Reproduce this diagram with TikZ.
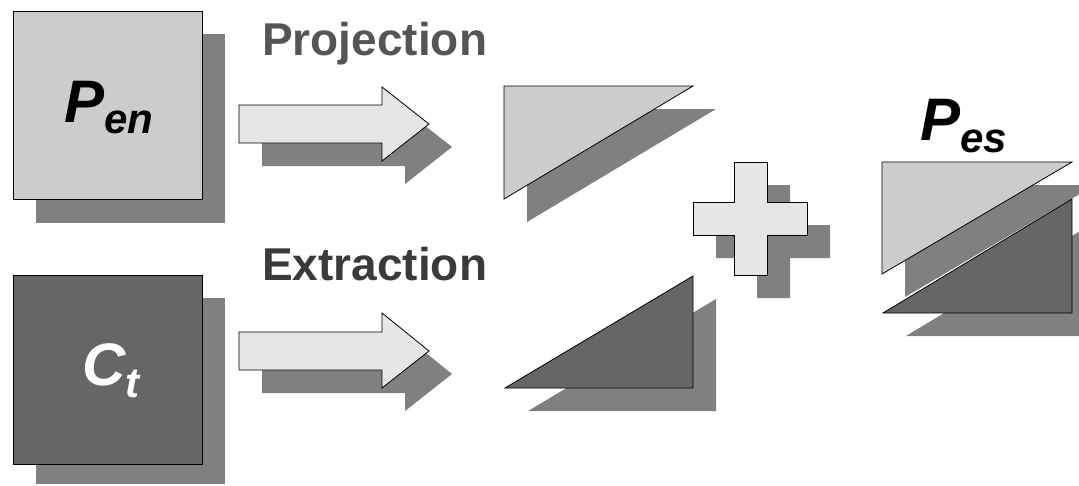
\documentclass[tikz,border=0pt]{standalone}
\usepackage{fontspec}
\setmainfont{Liberation Sans}
\definecolor{shd}{HTML}{808080}
\definecolor{lightfill}{HTML}{CCCCCC}
\definecolor{arrowfill}{HTML}{E6E6E6}
\definecolor{darkfill}{HTML}{666666}
\definecolor{labelA}{HTML}{555555}
\definecolor{labelB}{HTML}{3A3A3A}
\begin{document}
\begin{tikzpicture}[x=1pt,y=-1pt,
  shadowshape/.style={fill=shd},
  lightshape/.style={fill=lightfill,draw=black,line width=0.8pt,line join=miter},
  arrowshape/.style={fill=arrowfill,draw=black,line width=0.8pt,line join=miter},
  darkshape/.style={fill=darkfill,draw=black,line width=0.8pt,line join=miter},
  labeltext/.style={anchor=base west,inner sep=0pt,font=\fontsize{46}{46}\selectfont\bfseries},
  symtext/.style={anchor=base west,inner sep=0pt,font=\fontsize{60}{60}\selectfont\bfseries\itshape}]
\useasboundingbox (0,0) rectangle (1079,485);
\clip (0,0) rectangle (1079,485);
% ---------- left squares ----------
\fill[shadowshape] (36,34) rectangle (225,223);
\draw[lightshape] (13,11) rectangle (202,199);
\fill[shadowshape] (36,298) rectangle (225,484);
\draw[darkshape] (13,275) rectangle (202,464);
\node[symtext] (pen) at (64,122) {P\raisebox{-11pt}{\fontsize{42}{42}\selectfont en}};
\node[symtext,text=white] (ct) at (82,385) {C\raisebox{-12pt}{\fontsize{42}{42}\selectfont t}};
% ---------- labels ----------
\node[labeltext,text=labelA] (proj) at (262,55) {Projection};
\node[labeltext,text=labelB] (extr) at (262,280) {Extraction};
% ---------- arrows ----------
\fill[shadowshape] (262,128) -- (405,128) -- (405,110) -- (452,147) -- (405,184) -- (405,166) -- (262,166) -- cycle;
\draw[arrowshape] (239,105) -- (382,105) -- (382,87) -- (429,124) -- (382,161) -- (382,143) -- (239,143) -- cycle;
\fill[shadowshape] (262,355) -- (405,355) -- (405,336) -- (452,374) -- (405,411) -- (405,393) -- (262,393) -- cycle;
\draw[arrowshape] (239,332) -- (382,332) -- (382,313) -- (429,351) -- (382,388) -- (382,370) -- (239,370) -- cycle;
% ---------- middle triangles ----------
\fill[shadowshape] (527,109) -- (716,109) -- (527,222) -- cycle;
\draw[lightshape] (504,86) -- (693,86) -- (504,199) -- cycle;
\fill[shadowshape] (716,299) -- (716,411) -- (528,411) -- cycle;
\draw[darkshape] (693,276) -- (693,388) -- (505,388) -- cycle;
% ---------- plus ----------
\fill[shadowshape] (757,185) -- (790,185) -- (790,225) -- (830,225) -- (830,258) -- (790,258) -- (790,298) -- (757,298) -- (757,258) -- (716,258) -- (716,225) -- (757,225) -- cycle;
\draw[arrowshape] (734,162) -- (767,162) -- (767,202) -- (807,202) -- (807,235) -- (767,235) -- (767,275) -- (734,275) -- (734,235) -- (693,235) -- (693,202) -- (734,202) -- cycle;
% ---------- P_es ----------
\fill[shadowshape] (905,185) -- (1095,185) -- (905,297) -- cycle;
\fill[shadowshape] (1095,222) -- (1095,336) -- (906,336) -- cycle;
\draw[darkshape] (1072,199) -- (1072,313) -- (883,313) -- cycle;
\draw[lightshape] (882,162) -- (1072,162) -- (882,274) -- cycle;
\node[symtext] (pes) at (920,140) {P\raisebox{-12pt}{\fontsize{42}{42}\selectfont es}};
\end{tikzpicture}
\end{document}
